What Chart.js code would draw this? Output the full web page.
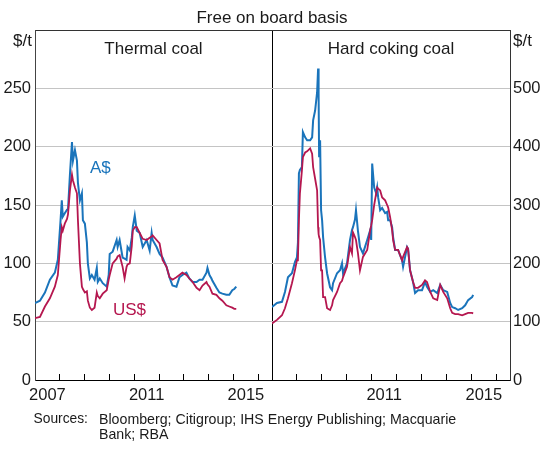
<!DOCTYPE html>
<html><head><meta charset="utf-8">
<script src="https://cdn.jsdelivr.net/npm/chart.js@4.4.0/dist/chart.umd.min.js"></script>
<style>
html,body{margin:0;padding:0;background:#fff;}
#wrap{position:relative;width:552px;height:450px;overflow:hidden;font-family:"Liberation Sans",Arial,sans-serif;color:#1a1a1a;}
canvas{position:absolute;top:0;}
.t{position:absolute;white-space:nowrap;line-height:1;}
</style></head><body>
<div id="wrap">
<canvas id="cl" width="273" height="450" style="left:0px"></canvas>
<canvas id="cr" width="280" height="450" style="left:272px"></canvas>
<div class="t" style="left:272px;top:8.5px;font-size:17px;transform:translateX(-50%)">Free on board basis</div>
<div class="t" style="left:153.5px;top:40px;font-size:17px;transform:translateX(-50%)">Thermal coal</div>
<div class="t" style="left:391px;top:40px;font-size:17px;transform:translateX(-50%)">Hard coking coal</div>
<div class="t" style="right:520px;top:32px;font-size:17px">$/t</div>
<div class="t" style="left:513px;top:32px;font-size:17px">$/t</div>
<div class="t" style="left:90px;top:159px;font-size:17px;color:#1a74bb">A$</div>
<div class="t" style="left:113px;top:301px;font-size:17px;color:#b5174f">US$</div>
<div class="t" style="left:33.5px;top:412px;font-size:13.8px;line-height:14.5px">Sources:</div>
<div class="t" style="left:99px;top:412px;font-size:14.2px;line-height:14.5px">Bloomberg; Citigroup; IHS Energy Publishing; Macquarie<br>Bank; RBA</div>
</div>
<script>
// ---- Data ----
const yearTicks = [2008, 2009, 2010, 2011, 2012, 2013, 2014, 2015, 2016];
const leftYearLabels = [2007, 2011, 2015];
const rightYearLabels = [2011, 2015];
const leftValueTicks = [0, 50, 100, 150, 200, 250];
const rightValueTicks = [0, 100, 200, 300, 400, 500];

const thermalDates = [2007.00,2007.20,2007.40,2007.60,2007.80,2007.92,2008.03,2008.08,2008.12,2008.20,2008.29,2008.33,2008.41,2008.49,2008.53,2008.61,2008.69,2008.73,2008.81,2008.89,2008.93,2009.01,2009.09,2009.13,2009.21,2009.29,2009.40,2009.49,2009.53,2009.61,2009.73,2009.89,2009.97,2010.01,2010.13,2010.29,2010.33,2010.41,2010.53,2010.61,2010.69,2010.73,2010.82,2010.90,2010.94,2011.02,2011.10,2011.22,2011.34,2011.50,2011.62,2011.70,2011.74,2011.90,2012.02,2012.14,2012.30,2012.42,2012.54,2012.70,2012.82,2012.94,2013.10,2013.22,2013.35,2013.51,2013.63,2013.75,2013.91,2013.95,2014.03,2014.11,2014.15,2014.31,2014.43,2014.55,2014.71,2014.83,2014.95,2015.03,2015.11];
const thermalAUD = [66,68,75,86,92,103,137,154,140,143,146,146,177,204,188,197,188,169,154,160,137,134,118,100,87,90,86,96,84,87,83,80,90,108,110,120,114,120,105,104,103,114,111,122,131,141,128,126,114,120,111,126,120,114,108,105,97,88,81,80,88,90,92,87,84,84,86,86,92,96,90,87,85,79,75,74,73,73,77,78,80];
const thermalUSD = [53,54,63,70,80,90,120,131,128,134,138,142,163,176,171,165,160,137,100,80,78,75,76,68,62,60,62,75,72,70,74,77,86,90,100,104,106,107,97,87,97,99,100,115,128,131,131,126,121,120,122,123,124,120,117,103,97,88,86,88,90,92,90,87,84,79,77,81,84,82,80,76,74,73,70,68,64,63,62,61,61];

const cokingDates = [2007.00,2007.20,2007.40,2007.52,2007.64,2007.80,2007.92,2008.00,2008.04,2008.08,2008.12,2008.20,2008.24,2008.33,2008.41,2008.53,2008.61,2008.65,2008.73,2008.81,2008.85,2008.87,2008.89,2008.93,2008.97,2009.01,2009.05,2009.13,2009.21,2009.33,2009.41,2009.45,2009.61,2009.73,2009.81,2009.85,2010.01,2010.13,2010.21,2010.25,2010.33,2010.37,2010.45,2010.53,2010.65,2010.82,2010.94,2010.98,2011.02,2011.10,2011.18,2011.22,2011.26,2011.34,2011.42,2011.54,2011.62,2011.66,2011.74,2011.82,2011.86,2011.94,2012.06,2012.22,2012.26,2012.42,2012.46,2012.54,2012.66,2012.74,2012.86,2013.02,2013.14,2013.22,2013.35,2013.47,2013.63,2013.75,2013.87,2014.03,2014.15,2014.23,2014.35,2014.47,2014.63,2014.75,2014.87,2015.03,2015.07];
const cokingUSD = [97,103,111,123,140,166,188,205,205,274,320,359,382,390,392,397,388,365,345,325,262,250,245,240,188,188,142,142,123,120,128,137,151,166,170,176,194,228,217,253,245,240,217,188,211,223,257,265,274,300,320,330,328,325,313,308,300,296,279,257,240,223,223,205,211,228,225,188,168,158,158,163,171,168,151,140,137,163,151,140,123,115,113,113,111,113,115,115,114];
const cokingAUD = [125,132,134,151,176,183,202,210,235,354,360,365,425,416,411,411,416,445,462,493,534,491,382,411,291,274,245,210,183,159,154,166,183,188,200,183,200,240,257,262,275,291,255,228,217,240,257,240,371,330,320,330,313,291,295,286,288,274,274,262,245,223,223,205,194,228,225,188,168,149,154,154,168,160,151,154,149,163,154,151,132,125,123,120,123,128,137,142,146];

// ---- Styling ----
const FONT = '"Liberation Sans", Arial, sans-serif';
const TXT = '#1a1a1a';
const BLUE = '#1a74bb';
const RED = '#b5174f';
const GRID = '#c4c4c4';
const XMIN = 2007, XMAX = 2016.55;
Chart.defaults.font.family = FONT;
Chart.defaults.color = TXT;

function pts(dates, vals) { return dates.map((d, i) => ({ x: d, y: vals[i] })); }

function lineDs(data, color, w) {
  return { data, borderColor: color, borderWidth: w, pointRadius: 0, tension: 0, fill: false, xAxisID: 'x', yAxisID: 'y' };
}

function commonX(labels) {
  return {
    x: {
      type: 'linear', position: 'bottom', min: XMIN, max: XMAX, weight: 0,
      afterBuildTicks: s => { s.ticks = yearTicks.map(v => ({ value: v })); },
      grid: { drawOnChartArea: false, drawTicks: true, tickLength: -6, color: '#000', lineWidth: 1 },
      border: { display: true, color: '#000', width: 1 },
      ticks: { display: false },
      afterFit: s => { s.height = 0; }
    },
    xl: {
      type: 'linear', position: 'bottom', min: XMIN, max: XMAX, weight: 1,
      afterBuildTicks: s => { s.ticks = labels.map(v => ({ value: v + 0.5 })); },
      grid: { display: false, drawTicks: false },
      border: { display: false },
      ticks: { autoSkip: false, maxRotation: 0, padding: 6, color: TXT, font: { size: 16.5 },
               callback: v => String(Math.floor(v)) },
      afterFit: s => { s.height = 70; }
    },
    xt: {
      type: 'linear', position: 'top', min: XMIN, max: XMAX,
      grid: { display: false, drawTicks: false },
      border: { display: true, color: '#333', width: 1 },
      ticks: { display: false },
      afterFit: s => { s.height = 0; }
    }
  };
}

const base = {
  responsive: false, animation: false, events: [],
  layout: { padding: { top: 30, left: 0, right: 0, bottom: 0 } },
  plugins: { legend: { display: false }, tooltip: { enabled: false }, title: { display: false } }
};

new Chart(document.getElementById('cl'), {
  type: 'line',
  data: { datasets: [lineDs(pts(thermalDates, thermalUSD), RED, 1.8), lineDs(pts(thermalDates, thermalAUD), BLUE, 2)] },
  options: Object.assign({}, base, {
    scales: Object.assign(commonX(leftYearLabels), {
      y: {
        type: 'linear', position: 'left', min: 0, max: 300,
        afterBuildTicks: s => { s.ticks = leftValueTicks.map(v => ({ value: v })); },
        grid: { drawTicks: false, lineWidth: 1, color: c => (c.tick && c.tick.value === 0) ? 'rgba(0,0,0,0)' : GRID },
        border: { display: true, color: '#444', width: 1 },
        ticks: { padding: 4, color: TXT, font: { size: 16.5 } },
        afterFit: s => { s.width = 35; }
      },
      yr: {
        type: 'linear', position: 'right', min: 0, max: 300,
        grid: { display: false, drawTicks: false },
        border: { display: true, color: '#000', width: 1 },
        ticks: { display: false },
        afterFit: s => { s.width = 1; }
      }
    })
  })
});

new Chart(document.getElementById('cr'), {
  type: 'line',
  data: { datasets: [lineDs(pts(cokingDates, cokingUSD), RED, 1.8), lineDs(pts(cokingDates, cokingAUD), BLUE, 2)] },
  options: Object.assign({}, base, {
    scales: Object.assign(commonX(rightYearLabels), {
      y: {
        type: 'linear', position: 'right', min: 0, max: 600,
        afterBuildTicks: s => { s.ticks = rightValueTicks.map(v => ({ value: v })); },
        grid: { drawTicks: false, lineWidth: 1, color: c => (c.tick && c.tick.value === 0) ? 'rgba(0,0,0,0)' : GRID },
        border: { display: true, color: '#333', width: 1 },
        ticks: { padding: 3, color: TXT, font: { size: 16.5 } },
        afterFit: s => { s.width = 42; }
      }
    })
  })
});
</script>
</body></html>
